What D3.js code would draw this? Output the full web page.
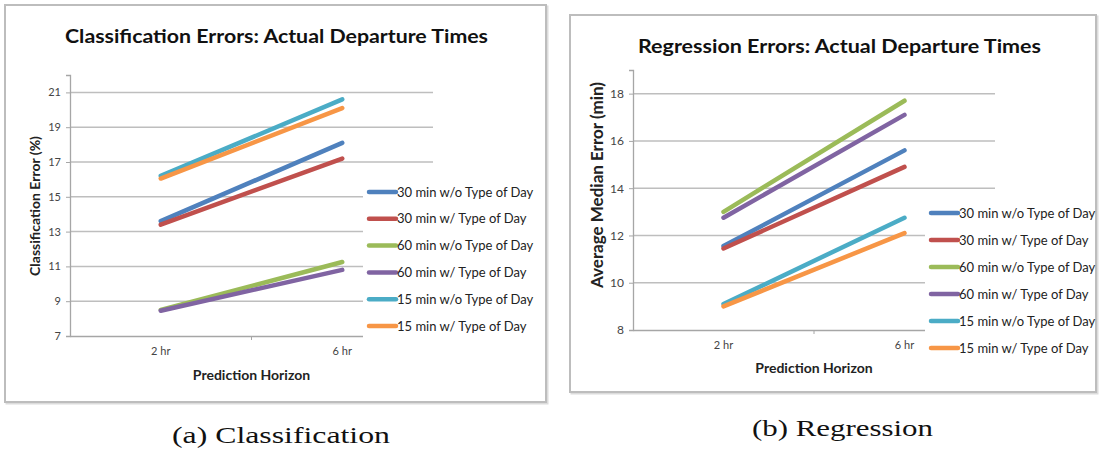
<!DOCTYPE html>
<html>
<head>
<meta charset="utf-8">
<script src="https://cdn.jsdelivr.net/npm/d3@7"></script>
<style>
  html, body { margin: 0; padding: 0; background: #fff; }
  svg { display: block; }
</style>
</head>
<body>
<svg id="fig" width="1101" height="451"></svg>
<script>
// Prediction horizons on the x axis
const horizons = ["2 hr", "6 hr"];

// Series, in legend order
const seriesNames = [
  "30 min w/o Type of Day",
  "30 min w/ Type of Day",
  "60 min w/o Type of Day",
  "60 min w/ Type of Day",
  "15 min w/o Type of Day",
  "15 min w/ Type of Day"
];
const seriesColors = ["#4F81BD", "#C0504D", "#9BBB59", "#8064A2", "#4BACC6", "#F79646"];

// Classification error (%) at 2 hr and 6 hr, one row per series
const classificationErrors = [
  [13.6, 18.1],
  [13.4, 17.2],
  [8.5, 11.25],
  [8.45, 10.8],
  [16.2, 20.6],
  [16.05, 20.1]
];
const classificationTicks = [7, 9, 11, 13, 15, 17, 19, 21];

// Average median error (min) at 2 hr and 6 hr, one row per series
const regressionErrors = [
  [11.55, 15.6],
  [11.45, 14.9],
  [13.0, 17.7],
  [12.75, 17.1],
  [9.1, 12.75],
  [9.0, 12.1]
];
const regressionTicks = [8, 10, 12, 14, 16, 18];

const svg = d3.select("#fig");
const uiFont = "Lato, 'Open Sans', sans-serif";

function panel(cfg) {
  const g = svg.append("g");

  // outer frame with a soft shadow
  g.append("rect")
    .attr("x", cfg.frame[0] + 1.5).attr("y", cfg.frame[1] + 1.5)
    .attr("width", cfg.frame[2]).attr("height", cfg.frame[3])
    .attr("fill", "none").attr("stroke", "#dcdcdc").attr("stroke-width", 2);
  g.append("rect")
    .attr("x", cfg.frame[0]).attr("y", cfg.frame[1])
    .attr("width", cfg.frame[2]).attr("height", cfg.frame[3])
    .attr("fill", "#fff").attr("stroke", "#bdbdbd").attr("stroke-width", 2);

  // title
  g.append("text")
    .attr("x", cfg.titleX).attr("y", cfg.titleY)
    .attr("text-anchor", "middle")
    .attr("font-family", uiFont).attr("font-weight", "bold")
    .attr("font-size", 19).attr("fill", "#111")
    .attr("textLength", cfg.titleWidth).attr("lengthAdjust", "spacingAndGlyphs")
    .text(cfg.title);

  const x = d3.scaleBand().domain(horizons).range(cfg.xRange);
  const y = d3.scaleLinear().domain(cfg.yDomain).range(cfg.yRange);

  // horizontal gridlines
  g.append("g").selectAll("line")
    .data(cfg.ticks.filter(t => t !== cfg.yDomain[0]))
    .join("line")
    .attr("x1", cfg.xRange[0]).attr("x2", cfg.xRange[1])
    .attr("y1", d => y(d)).attr("y2", d => y(d))
    .attr("stroke", "#bebebe").attr("stroke-width", 1.5);

  // y axis
  const yAxis = g.append("g")
    .attr("transform", `translate(${cfg.xRange[0]},0)`)
    .call(d3.axisLeft(y).tickValues(cfg.ticks).tickSize(4).tickPadding(5).tickFormat(d3.format("d")));
  yAxis.select(".domain").attr("stroke", "#a6a6a6").attr("stroke-width", 1.3);
  yAxis.selectAll(".tick line").attr("stroke", "#a6a6a6");
  yAxis.selectAll(".tick text")
    .attr("font-family", uiFont).attr("font-size", cfg.tickSize).attr("fill", "#444");

  // x axis
  const xAxis = g.append("g")
    .attr("transform", `translate(0,${cfg.yRange[0]})`)
    .call(d3.axisBottom(x).tickSize(0).tickPadding(11));
  xAxis.select(".domain").attr("stroke", "#a6a6a6").attr("stroke-width", 1.3);
  xAxis.selectAll(".tick text")
    .attr("font-family", uiFont).attr("font-size", 11).attr("fill", "#444");
  // category divider tick
  g.append("line")
    .attr("x1", x(horizons[1])).attr("x2", x(horizons[1]))
    .attr("y1", cfg.yRange[0]).attr("y2", cfg.yRange[0] + 4)
    .attr("stroke", "#a6a6a6");

  // axis titles
  g.append("text")
    .attr("x", (cfg.xRange[0] + cfg.xRange[1]) / 2).attr("y", cfg.xTitleY)
    .attr("text-anchor", "middle")
    .attr("font-family", uiFont).attr("font-weight", "bold")
    .attr("font-size", 14).attr("fill", "#222")
    .text("Prediction Horizon");
  g.append("text")
    .attr("transform", `translate(${cfg.yTitleX},${cfg.yTitleY}) rotate(-90)`)
    .attr("text-anchor", "middle")
    .attr("font-family", uiFont).attr("font-weight", "bold")
    .attr("font-size", cfg.yTitleSize).attr("fill", "#222")
    .text(cfg.yTitle);

  // legend panel sits over the right part of the plot area
  const lg = g.append("g");
  lg.append("rect")
    .attr("x", cfg.legend.x - 6).attr("y", cfg.legend.y - 16)
    .attr("width", cfg.frame[0] + cfg.frame[2] - cfg.legend.x + 5)
    .attr("height", seriesNames.length * cfg.legend.step + 8)
    .attr("fill", "#fff");

  // series lines
  const line = d3.line()
    .x((d, i) => x(horizons[i]) + x.bandwidth() / 2)
    .y(d => y(d));
  g.append("g").selectAll("path")
    .data(cfg.values)
    .join("path")
    .attr("d", d => line(d))
    .attr("fill", "none")
    .attr("stroke", (d, i) => seriesColors[i])
    .attr("stroke-width", 4.5)
    .attr("stroke-linecap", "round");

  const items = lg.selectAll("g.item")
    .data(seriesNames)
    .join("g").attr("class", "item")
    .attr("transform", (d, i) => `translate(${cfg.legend.x},${cfg.legend.y + i * cfg.legend.step})`);
  items.append("line")
    .attr("x1", 0).attr("x2", 27).attr("y1", 0).attr("y2", 0)
    .attr("stroke", (d, i) => seriesColors[i])
    .attr("stroke-width", 4.5).attr("stroke-linecap", "round");
  items.append("text")
    .attr("x", 28).attr("y", 0).attr("dy", "0.36em")
    .attr("font-family", uiFont).attr("font-size", 13).attr("fill", "#222")
    .text(d => d);
}

panel({
  frame: [5, 5, 541, 397],
  title: "Classification Errors: Actual Departure Times",
  titleX: 276.5, titleY: 43, titleWidth: 423,
  xRange: [70, 433],
  yDomain: [7, 22], yRange: [336, 75],
  ticks: classificationTicks, tickSize: 11,
  values: classificationErrors,
  xTitleY: 380,
  yTitle: "Classification Error (%)", yTitleX: 40, yTitleY: 206, yTitleSize: 14,
  legend: { x: 369, y: 192, step: 26.8 }
});

panel({
  frame: [570, 15, 526, 377],
  title: "Regression Errors: Actual Departure Times",
  titleX: 839.5, titleY: 53, titleWidth: 403,
  xRange: [633, 995],
  yDomain: [8, 19], yRange: [330, 70],
  ticks: regressionTicks, tickSize: 12,
  values: regressionErrors,
  xTitleY: 373,
  yTitle: "Average Median Error (min)", yTitleX: 603, yTitleY: 185, yTitleSize: 17,
  legend: { x: 931, y: 213, step: 27 }
});

// sub-figure captions
const capFont = "'Liberation Serif', 'DejaVu Serif', serif";
svg.append("text")
  .attr("x", 281).attr("y", 443).attr("text-anchor", "middle")
  .attr("font-family", capFont).attr("font-size", 24).attr("fill", "#111")
  .attr("textLength", 218).attr("lengthAdjust", "spacingAndGlyphs")
  .text("(a) Classification");
svg.append("text")
  .attr("x", 842.5).attr("y", 436).attr("text-anchor", "middle")
  .attr("font-family", capFont).attr("font-size", 24).attr("fill", "#111")
  .attr("textLength", 181).attr("lengthAdjust", "spacingAndGlyphs")
  .text("(b) Regression");
</script>
</body>
</html>
